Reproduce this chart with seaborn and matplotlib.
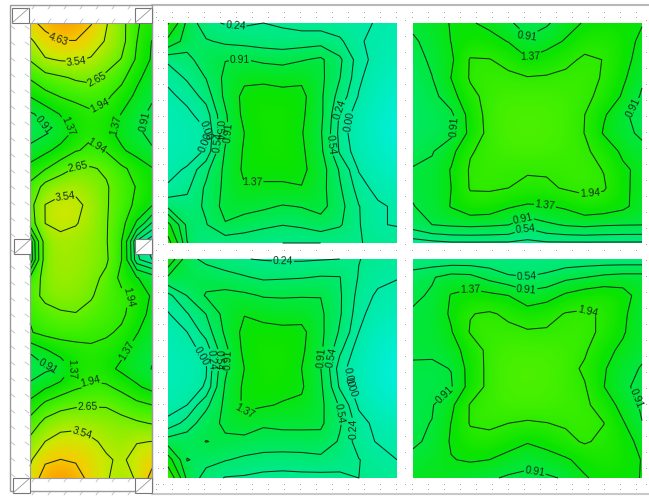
import numpy as np
import seaborn as sns
import matplotlib
matplotlib.use("Agg")
import matplotlib.pyplot as plt
from matplotlib.patches import Rectangle

levels = [0.0, 0.24, 0.54, 0.91, 1.37, 1.94, 2.65, 3.54, 4.63]

# values, top row first
column_vals = [
    [4.4, 4.9, 5.4, 5.3, 4.7, 3.6, 2.9, 2.0, 1.7],
    [3.3, 4.3, 4.6, 4.6, 4.1, 3.45, 2.9, 1.95, 1.35],
    [2.7, 3.45, 3.62, 3.65, 3.45, 3.0, 2.62, 1.85, 1.3],
    [2.0, 2.35, 2.55, 2.75, 2.85, 2.5, 2.1, 1.5, 1.1],
    [1.4, 1.75, 1.98, 2.12, 2.2, 2.05, 1.7, 1.25, 0.95],
    [0.85, 1.05, 1.4, 1.65, 1.85, 1.75, 1.35, 1.0, 0.85],
    [0.75, 0.85, 1.05, 1.5, 1.85, 1.55, 1.18, 0.98, 0.8],
    [1.0, 1.25, 1.55, 1.9, 2.05, 1.88, 1.45, 1.15, 0.95],
    [1.55, 1.9, 2.3, 2.72, 2.72, 2.55, 2.05, 1.75, 1.4],
    [2.1, 2.9, 3.25, 3.3, 3.0, 2.72, 2.3, 1.9, 1.5],
    [2.35, 3.56, 3.8, 3.75, 3.3, 2.72, 2.25, 1.8, 1.4],
    [2.2, 3.55, 3.75, 3.6, 3.2, 2.7, 2.15, 1.3, 0.5],
    [0.6, 3.0, 3.3, 3.2, 3.05, 2.7, 1.95, 0.2, -0.2],
    [0.5, 3.0, 3.25, 3.2, 3.0, 2.75, 1.95, 0.3, 0.0],
    [2.0, 2.95, 3.15, 3.1, 2.85, 2.5, 1.75, 1.4, 1.1],
    [2.3, 2.85, 3.0, 2.95, 2.72, 2.3, 2.1, 1.75, 1.3],
    [1.98, 2.35, 2.55, 2.62, 2.42, 2.2, 2.05, 1.65, 1.2],
    [1.9, 2.1, 2.15, 2.15, 2.08, 2.02, 1.85, 1.4, 1.1],
    [0.95, 1.3, 1.62, 1.75, 1.85, 1.75, 1.5, 1.15, 0.95],
    [0.7, 0.82, 0.95, 1.55, 1.8, 1.55, 1.25, 1.05, 0.9],
    [1.0, 1.3, 1.55, 1.85, 2.0, 2.02, 1.8, 1.45, 1.2],
    [1.55, 2.1, 2.4, 2.55, 2.6, 2.6, 2.3, 2.1, 1.95],
    [2.2, 2.9, 3.2, 3.3, 3.1, 3.0, 2.95, 2.75, 2.62],
    [2.85, 3.55, 3.9, 3.9, 3.7, 3.35, 3.1, 3.5, 3.55],
    [3.4, 4.45, 4.65, 4.5, 4.1, 3.65, 3.4, 3.85, 4.3],
    [3.8, 5.2, 5.5, 5.2, 4.2, 3.6, 3.3, 3.6, 5.0],
]
slab_tl = [
    [2.0, 0.8, 0.3, 0.22, 0.2, 0.24, 0.2, 0.15, 0.12, 0.08, 0.05, -0.02, -0.08],
    [1.2, 0.75, 0.58, 0.47, 0.42, 0.38, 0.35, 0.36, 0.4, 0.29, 0.03, -0.08, -0.15],
    [0.3, 0.4, 0.8, 0.9, 0.92, 0.82, 0.78, 0.88, 0.98, 0.6, 0.1, -0.1, -0.2],
    [0.05, 0.28, 0.55, 1.0, 1.27, 1.28, 1.22, 1.28, 1.0, 0.55, 0.05, -0.2, -0.35],
    [-0.05, 0.06, 0.35, 1.0, 1.5, 1.55, 1.52, 1.5, 0.98, 0.4, -0.02, -0.3, -0.5],
    [-0.15, -0.05, 0.1, 0.85, 1.5, 1.6, 1.6, 1.45, 1.0, 0.2, -0.15, -0.38, -0.6],
    [-0.2, -0.1, -0.02, 0.82, 1.37, 1.58, 1.6, 1.4, 0.95, 0.15, -0.2, -0.42, -0.7],
    [-0.15, -0.08, 0.02, 0.95, 1.42, 1.58, 1.58, 1.45, 1.0, 0.2, -0.15, -0.35, -0.55],
    [-0.05, 0.02, 0.45, 1.0, 1.45, 1.5, 1.5, 1.48, 1.1, 0.5, -0.02, -0.25, -0.4],
    [0.02, 0.18, 0.6, 1.0, 1.34, 1.3, 1.3, 1.35, 1.05, 0.58, 0.12, -0.1, -0.2],
    [0.45, 0.35, 0.6, 1.05, 1.03, 0.98, 0.88, 0.93, 1.05, 0.65, 0.25, 0.05, -0.05],
    [1.5, 0.45, 0.52, 0.88, 0.75, 0.62, 0.55, 0.6, 0.72, 0.58, 0.26, 0.02, -0.02],
    [2.2, 0.55, 0.3, 0.3, 0.28, 0.26, 0.24, 0.24, 0.24, 0.26, 0.25, 0.2, 0.18],
]
slab_tr = [
    [1.0, 1.15, 1.4, 1.42, 1.25, 0.98, 0.72, 0.85, 1.15, 1.42, 1.5, 1.5, 1.4],
    [0.85, 1.05, 1.38, 1.6, 1.55, 1.35, 0.98, 1.15, 1.42, 1.75, 1.8, 1.6, 1.25],
    [0.75, 0.98, 1.28, 1.98, 1.96, 1.78, 1.42, 1.62, 1.82, 2.02, 1.93, 1.58, 1.12],
    [0.68, 0.9, 1.38, 1.99, 2.05, 2.05, 1.98, 2.0, 2.05, 2.08, 1.9, 1.46, 0.98],
    [0.62, 0.78, 1.15, 1.8, 2.1, 2.2, 2.2, 2.2, 2.15, 2.05, 1.8, 1.3, 0.85],
    [0.62, 0.72, 0.82, 1.55, 2.15, 2.28, 2.32, 2.28, 2.2, 1.94, 1.42, 1.05, 0.6],
    [0.62, 0.72, 0.8, 1.5, 2.12, 2.3, 2.33, 2.3, 2.18, 1.93, 1.32, 1.0, 0.85],
    [0.72, 0.88, 1.2, 1.9, 2.08, 2.2, 2.25, 2.2, 2.12, 2.02, 1.75, 1.25, 1.0],
    [0.95, 1.0, 1.4, 2.0, 2.05, 2.0, 1.98, 2.0, 2.05, 2.1, 1.92, 1.48, 1.2],
    [0.95, 0.98, 1.37, 1.98, 2.0, 1.94, 1.85, 1.85, 1.99, 2.05, 2.0, 1.5, 1.15],
    [0.9, 1.0, 1.4, 1.72, 1.68, 1.42, 1.3, 1.33, 1.45, 1.72, 1.65, 1.48, 1.15],
    [0.7, 0.91, 0.97, 1.0, 0.97, 0.92, 0.65, 0.84, 0.95, 1.0, 0.95, 0.93, 0.92],
    [0.1, 0.15, 0.2, 0.2, 0.2, 0.2, 0.15, 0.2, 0.2, 0.2, 0.2, 0.2, 0.2],
]
slab_bl = [
    [1.8, 0.65, 0.45, 0.3, 0.25, 0.22, 0.2, 0.2, 0.22, 0.24, 0.25, 0.15, 0.1],
    [0.85, 0.88, 0.75, 0.68, 0.57, 0.48, 0.5, 0.52, 0.56, 0.55, 0.22, 0.08, 0.02],
    [0.15, 0.55, 0.95, 1.02, 0.98, 0.88, 0.87, 0.88, 0.9, 0.58, 0.15, -0.05, -0.12],
    [-0.02, 0.22, 0.55, 1.05, 1.35, 1.2, 1.15, 1.18, 0.98, 0.58, 0.08, -0.15, -0.25],
    [-0.15, 0.0, 0.35, 0.98, 1.5, 1.55, 1.5, 1.5, 1.0, 0.5, 0.0, -0.3, -0.45],
    [-0.2, -0.1, 0.08, 0.8, 1.48, 1.6, 1.6, 1.45, 0.98, 0.3, -0.15, -0.4, -0.6],
    [-0.25, -0.15, -0.02, 0.84, 1.37, 1.6, 1.6, 1.37, 0.92, 0.1, -0.18, -0.45, -0.72],
    [-0.2, -0.1, 0.02, 0.95, 1.45, 1.58, 1.52, 1.42, 0.98, 0.2, -0.15, -0.42, -0.65],
    [-0.08, 0.0, 0.45, 1.0, 1.45, 1.42, 1.33, 1.3, 1.0, 0.5, -0.05, -0.3, -0.45],
    [0.05, 0.35, 0.75, 0.98, 1.2, 0.97, 1.0, 1.02, 0.98, 0.58, 0.12, -0.1, -0.18],
    [0.7, 0.75, 0.92, 0.85, 0.75, 0.72, 0.75, 0.72, 0.78, 0.5, 0.1, -0.02, -0.05],
    [1.6, 0.52, 0.65, 0.56, 0.48, 0.42, 0.38, 0.42, 0.44, 0.32, 0.25, 0.12, 0.0],
    [2.5, 0.8, 0.4, 0.22, 0.2, 0.15, 0.15, 0.15, 0.15, 0.2, 0.24, 0.2, 0.15],
]
slab_br = [
    [0.27, 0.27, 0.27, 0.27, 0.3, 0.3, 0.3, 0.3, 0.3, 0.3, 0.3, 0.3, 0.3],
    [0.72, 0.88, 1.05, 1.02, 0.78, 0.58, 0.55, 0.62, 0.8, 0.9, 1.0, 1.05, 1.05],
    [0.85, 0.95, 1.4, 1.55, 1.48, 1.37, 1.05, 1.15, 1.45, 1.62, 1.72, 1.6, 1.1],
    [0.95, 1.0, 1.45, 1.92, 2.0, 1.85, 1.6, 1.75, 1.97, 2.02, 1.88, 1.5, 0.95],
    [0.95, 1.0, 1.33, 1.98, 2.05, 2.05, 2.0, 2.0, 2.05, 2.1, 1.82, 1.42, 1.05],
    [0.98, 0.97, 1.15, 1.6, 2.1, 2.2, 2.25, 2.2, 2.15, 2.02, 1.5, 1.28, 1.0],
    [0.85, 0.85, 0.92, 1.55, 2.1, 2.3, 2.33, 2.3, 2.15, 1.85, 1.42, 1.05, 0.88],
    [0.85, 0.85, 0.87, 1.55, 2.1, 2.28, 2.3, 2.28, 2.12, 1.98, 1.38, 0.95, 0.85],
    [0.8, 0.88, 1.25, 1.98, 2.1, 2.2, 2.25, 2.2, 2.12, 2.05, 1.68, 1.18, 0.85],
    [0.85, 0.92, 1.38, 1.98, 2.02, 1.94, 1.88, 1.93, 2.0, 2.08, 1.95, 1.42, 0.92],
    [0.85, 0.98, 1.42, 1.75, 1.8, 1.6, 1.42, 1.55, 1.8, 2.0, 1.82, 1.6, 1.2],
    [1.0, 1.15, 1.35, 1.42, 1.37, 1.18, 0.95, 1.15, 1.3, 1.55, 1.7, 1.6, 1.35],
    [1.2, 1.25, 1.2, 1.05, 0.97, 0.85, 0.88, 0.85, 0.95, 1.32, 1.55, 1.5, 1.35],
]

sns.set_theme(style="white")
plt.rcParams["font.family"] = ["Liberation Sans", "DejaVu Sans"]

field_cmap = sns.blend_palette(
    ["#00f0e1", "#00eba5", "#00e850", "#0ae400", "#46f000",
     "#8cee00", "#cde800", "#f5cd00", "#faa500"], as_cmap=True)

fig = plt.figure(figsize=(6.49, 4.96), dpi=100)
ax = fig.add_axes([0, 0, 1, 1])
ax.set_xlim(0, 649)
ax.set_ylim(496, 0)
ax.axis("off")


def draw_panel(vals, left, right, top, bottom, label_pts):
    z = np.array(vals)
    rows, cols = z.shape
    x = np.linspace(left, right, cols)
    y = np.linspace(top, bottom, rows)
    dx, dy = x[1] - x[0], y[1] - y[0]
    im = ax.imshow(z, cmap=field_cmap, vmin=-0.75, vmax=5.25, aspect="auto",
                   interpolation="bicubic", zorder=2,
                   extent=[left - dx / 2, right + dx / 2, bottom + dy / 2, top - dy / 2])
    im.set_clip_path(Rectangle((left, top), right - left, bottom - top, transform=ax.transData))
    cs = ax.contour(x, y, z, levels=levels, colors="#10301a", linewidths=0.75, zorder=3)
    ax.clabel(cs, manual=label_pts, fmt="%.2f", fontsize=7.5, inline=True, inline_spacing=1)


draw_panel(column_vals, 30, 152, 23, 478,
           [(58, 40), (77, 63), (97, 80), (100, 106), (47, 122), (70, 125), (115, 125),
            (138, 120), (100, 143), (78, 166), (65, 197), (137, 298), (135, 355),
            (48, 366), (73, 370), (90, 381), (88, 408), (80, 438)])
draw_panel(slab_tl, 168, 397, 23, 243,
           [(235, 31), (240, 59), (253, 189), (330, 145), (345, 112), (350, 122),
            (207, 130), (207, 143), (217, 130), (217, 143), (228, 133)])
draw_panel(slab_tr, 413, 642, 23, 243,
           [(530, 41), (530, 55), (452, 127), (545, 205), (590, 193), (523, 218), (525, 228), (632, 107)])
draw_panel(slab_bl, 168, 397, 259, 478,
           [(283, 265), (243, 417), (195, 360), (205, 360), (213, 360), (222, 360),
            (325, 358), (335, 358), (345, 378), (350, 387), (345, 413), (348, 428)])
draw_panel(slab_br, 413, 642, 259, 478,
           [(527, 275), (527, 288), (470, 287), (590, 304), (445, 395), (635, 399), (537, 462)])

# outer walls and supports
wall = "#9a9a9a"
ax.add_patch(Rectangle((10, 5), 142, 486, fill=False, ec=wall, lw=1, zorder=4))
ax.add_patch(Rectangle((30, 23), 122, 455, fill=False, ec=wall, lw=0.8, zorder=4))
for sx, sy in [(12, 8), (135, 8), (14, 239), (135, 239), (13, 478), (135, 478)]:
    ax.add_patch(Rectangle((sx, sy), 17, 15, fc="white", ec="#777777", lw=0.8, zorder=5))
    ax.plot([sx, sx + 17], [sy + 15, sy], color="#999999", lw=0.6, zorder=6)

# hatch ticks along the wall
for hy in np.arange(26, 478, 16):
    ax.plot([11, 15], [hy, hy + 3], color="#b0b0b0", lw=0.5)
    ax.plot([25, 29], [hy, hy + 3], color="#b0b0b0", lw=0.5)
for hx in np.arange(32, 135, 16):
    ax.plot([hx, hx + 3], [9, 5], color="#b0b0b0", lw=0.5)
    ax.plot([hx, hx + 3], [23, 19], color="#b0b0b0", lw=0.5)
    ax.plot([hx, hx + 3], [482, 478], color="#b0b0b0", lw=0.5)
    ax.plot([hx, hx + 3], [495, 491], color="#b0b0b0", lw=0.5)

# drawing grid dots and frame lines
gx = np.arange(156, 649, 16)
for gy in [12, 17, 250, 484, 489]:
    ax.plot(gx, np.full(len(gx), gy), ls="none", marker="s", ms=0.7, color="#a8a8a8", mew=0)
gy = np.arange(20, 490, 16)
for gx0 in [158, 163, 405, 646]:
    ax.plot(np.full(len(gy), gx0), gy, ls="none", marker="s", ms=0.7, color="#a8a8a8", mew=0)
ax.plot([152, 649], [5, 5], color="#b8b8b8", lw=1.5)
ax.plot([152, 649], [494, 494], color="#c8c8c8", lw=1.5)

sns.despine(ax=ax, left=True, bottom=True)
fig.savefig("out.png", dpi=100)
